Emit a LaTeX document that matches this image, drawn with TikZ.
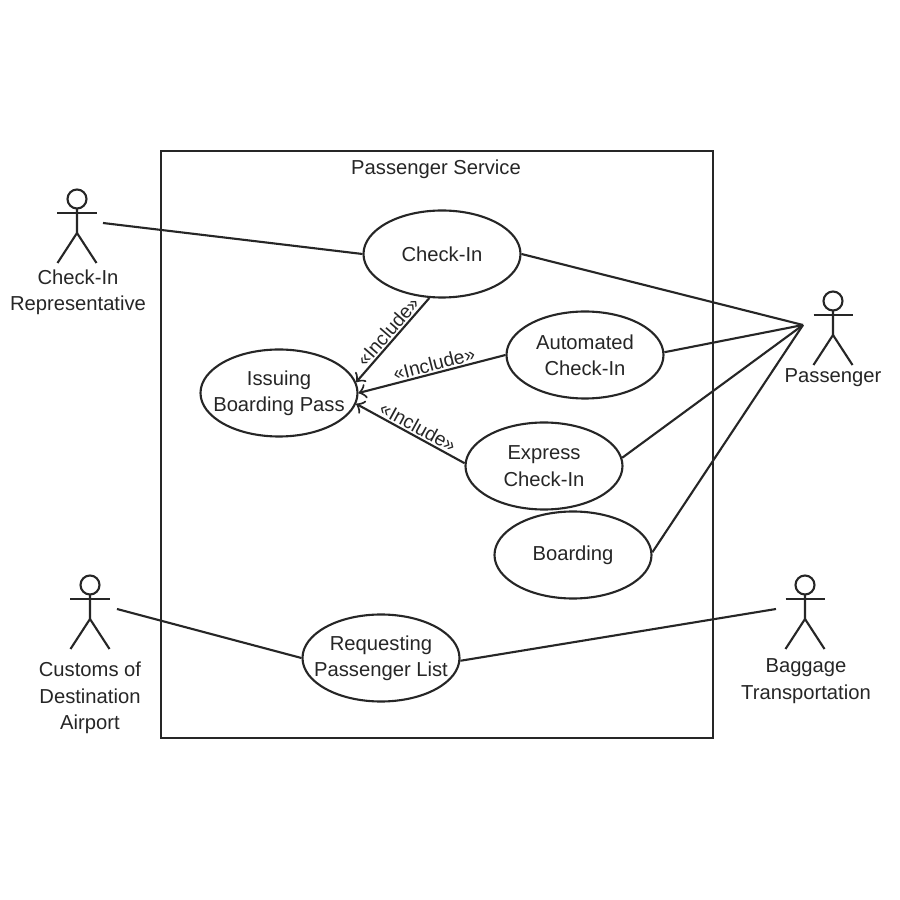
\documentclass[tikz,border=0pt]{standalone}
\usepackage{fontspec}
\setmainfont{Liberation Sans}
\usetikzlibrary{shapes.geometric}
\tikzset{
    usecase/.style={draw, ellipse, inner xsep=-0.25cm, inner ysep=-0.1cm, minimum width=1.57cm, minimum height=0.87cm, align=center},
    actorname/.style={align=center},
    includelabel/.style={sloped, above, pos=0.47, inner sep=0.4pt, font=\fontsize{5.5}{7}\selectfont},
    actor/.pic={
        \draw (0,0) circle (0.095);
        \draw (-0.195,-0.14) -- (0.195,-0.14);
        \draw (0,-0.095) -- (0,-0.34) -- (-0.195,-0.64);
        \draw (0,-0.34) -- (0.195,-0.64);
    }
}
\begin{document}
\begin{tikzpicture}[every node/.style={font=\fontsize{5.75}{7.5}\selectfont, text=black!85}, >=to, line width=0.6pt, black!85]
    \useasboundingbox (0,0) rectangle (9,9);
    \fill[white] (0,0) rectangle (9,9);

    \node[draw, minimum width=5.52cm, minimum height=5.87cm, inner sep=0pt] (system) at (4.37,4.555) {};
    \node (title) at (4.36,7.31) {Passenger Service};

    \node[usecase] (checkin) at (4.42,6.46) {Check-In};
    \node[usecase] (issuing) at (2.79,5.07) {Issuing\\Boarding Pass};
    \node[usecase] (automated) at (5.85,5.45) {Automated\\Check-In};
    \node[usecase] (express) at (5.44,4.34) {Express\\Check-In};
    \node[usecase] (boarding) at (5.73,3.45) {Boarding};
    \node[usecase] (requesting) at (3.81,2.42) {Requesting\\Passenger List};

    \pic at (0.77,7.01) {actor};
    \pic at (8.33,5.99) {actor};
    \pic at (0.90,3.15) {actor};
    \pic at (8.05,3.15) {actor};

    \node[actorname] (repname) at (0.78,6.08) {Check-In\\Representative};
    \node[actorname] (passname) at (8.33,5.22) {Passenger};
    \node[actorname] (customsname) at (0.90,2.02) {Customs of\\Destination\\Airport};
    \node[actorname] (baggagename) at (8.06,2.19) {Baggage\\Transportation};

    \coordinate (rep) at (1.03,6.77);
    \coordinate (passenger) at (8.03,5.75);
    \coordinate (customs) at (1.17,2.91);
    \coordinate (baggage) at (7.76,2.91);

    \draw (rep) -- (checkin.180);
    \draw (checkin.0) -- (passenger);
    \draw (automated.2) -- (passenger);
    \draw (express.6) -- (passenger);
    \draw (boarding.2) -- (passenger);
    \draw (customs) -- (requesting.180);
    \draw (requesting.358) -- (baggage);

    \draw[->] (checkin.254) -- node[includelabel] {«Include»} (issuing.8);
    \draw[->] (automated.180) -- node[includelabel] {«Include»} (issuing.0);
    \draw[->] (express.178) -- node[includelabel] {«Include»} (issuing.352);
\end{tikzpicture}
\end{document}
